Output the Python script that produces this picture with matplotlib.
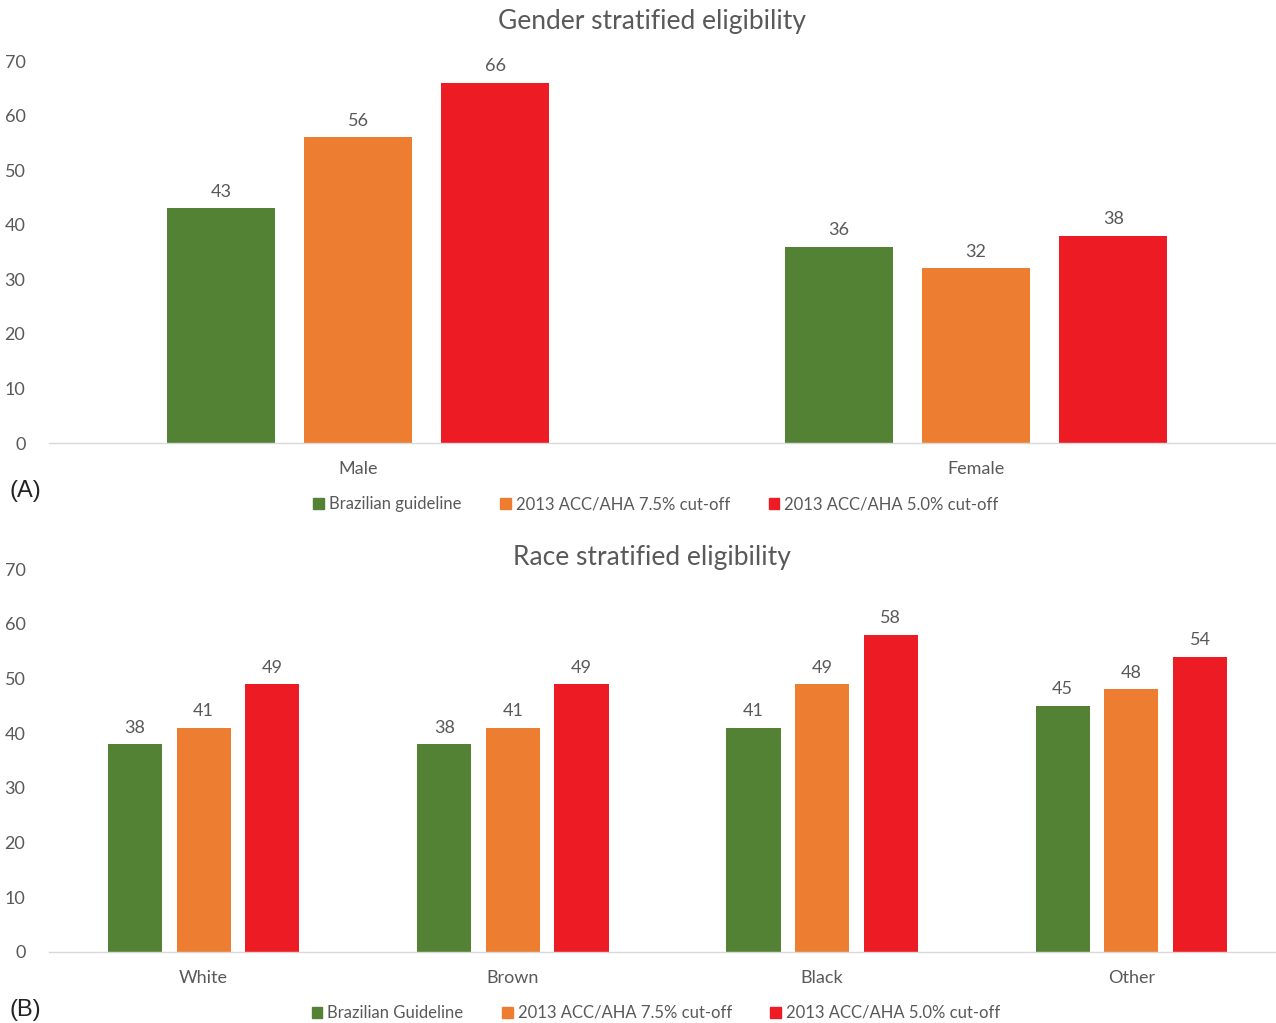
import numpy as np
import matplotlib
matplotlib.use('Agg')
import matplotlib.pyplot as plt
from matplotlib.patches import Patch

plt.rcParams['font.family'] = ['Lato', 'DejaVu Sans']

green = '#548235'
orange = '#ED7D31'
red = '#ED1C24'
grey = '#595959'

# Panel A
gender = ['Male', 'Female']
gender_brazil = [43, 36]
gender_acc75 = [56, 32]
gender_acc50 = [66, 38]
legend_a = ['Brazilian guideline', '2013 ACC/AHA 7.5% cut-off', '2013 ACC/AHA 5.0% cut-off']

# Panel B
race = ['White', 'Brown', 'Black', 'Other']
race_brazil = [38, 38, 41, 45]
race_acc75 = [41, 41, 49, 48]
race_acc50 = [49, 49, 58, 54]
legend_b = ['Brazilian Guideline', '2013 ACC/AHA 7.5% cut-off', '2013 ACC/AHA 5.0% cut-off']

W, H = 1276, 1023
fig = plt.figure(figsize=(W/100, H/100), dpi=100)


def panel(rect, cats, series, title, title_y, labels, legend_y, tag, tag_y):
    ax = fig.add_axes(rect)
    x = np.arange(len(cats))
    width = 0.175
    step = 0.222
    colors = [green, orange, red]
    for i, (vals, c) in enumerate(zip(series, colors)):
        rects = ax.bar(x + (i - 1) * step, vals, width, color=c)
        ax.bar_label(rects, padding=6, fontsize=13, color=grey)
    ax.set_xlim(-0.5, len(cats) - 0.5)
    ax.set_ylim(0, 70)
    ax.set_yticks(range(0, 71, 10))
    ax.set_xticks(x, cats)
    ax.tick_params(axis='both', length=0, labelsize=13, labelcolor=grey)
    ax.tick_params(axis='y', pad=17)
    ax.tick_params(axis='x', pad=13)
    for s in ['top', 'right', 'left']:
        ax.spines[s].set_visible(False)
    ax.spines['bottom'].set_color('#d9d9d9')
    ax.spines['bottom'].set_linewidth(1)
    fig.text(652 / W, 1 - title_y / H, title, fontsize=19, color=grey,
             ha='center', va='center')
    handles = [Patch(color=c) for c in colors]
    fig.legend(handles, labels, loc='center', bbox_to_anchor=(656 / W, 1 - legend_y / H),
               ncol=3, frameon=False, fontsize=12, labelcolor=grey,
               handlelength=0.65, handleheight=0.65, handletextpad=0.3, columnspacing=2.3)
    fig.text(10 / W, 1 - tag_y / H, tag, fontsize=17, family='Liberation Sans',
             color='#222222', va='center', ha='left')
    return ax


# axes rects in figure fractions (left, bottom, width, height)
panel([49 / W, 1 - 443 / H, 1236 / W, 382 / H], gender,
      [gender_brazil, gender_acc75, gender_acc50],
      'Gender stratified eligibility', 22, legend_a, 504, '(A)', 491)
panel([49 / W, 1 - 952 / H, 1237 / W, 383 / H], race,
      [race_brazil, race_acc75, race_acc50],
      'Race stratified eligibility', 558, legend_b, 1013, '(B)', 1010)

fig.savefig('out.png', dpi=100)
